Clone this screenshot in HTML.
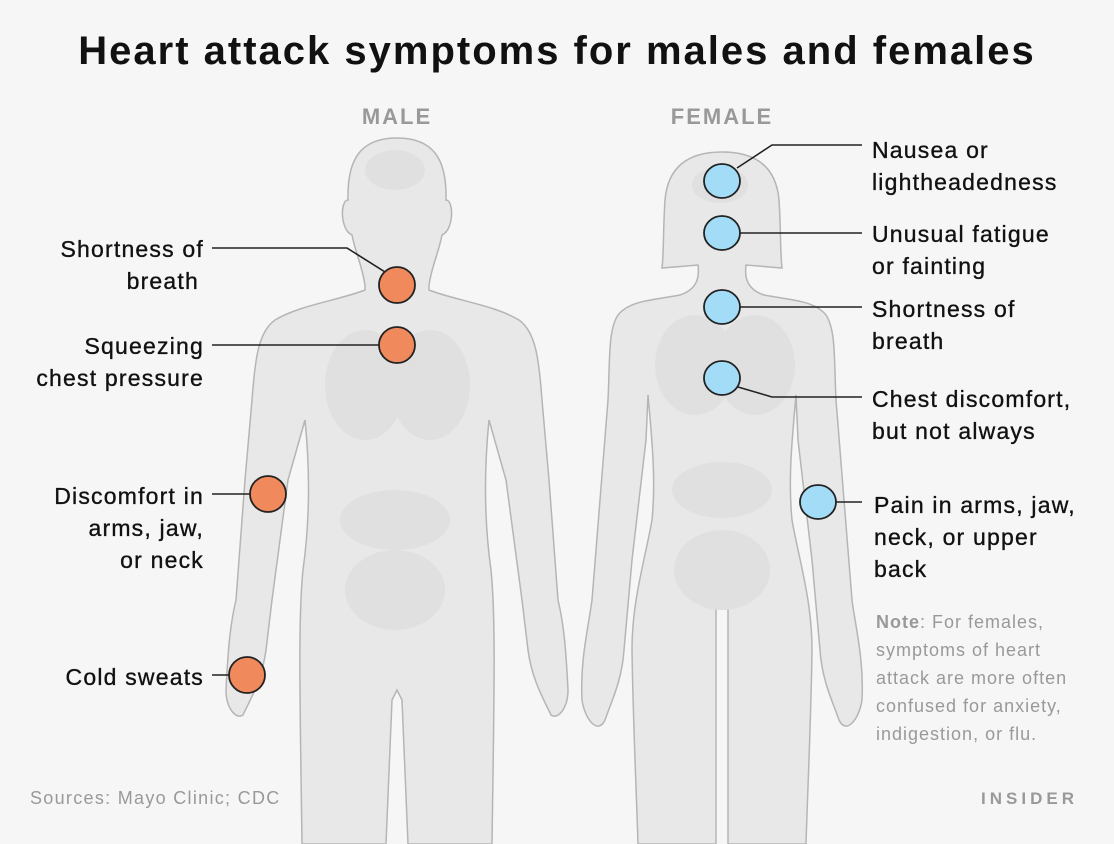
<!DOCTYPE html>
<html><head><meta charset="utf-8"><style>
body{margin:0;width:1114px;height:844px;background:#f6f6f6;overflow:hidden;font-family:"Liberation Sans",sans-serif}
svg{position:absolute;left:0;top:0}
</style></head><body>
<svg width="1114" height="844" xmlns="http://www.w3.org/2000/svg" font-family="Liberation Sans, sans-serif">
<text x="557" y="64" text-anchor="middle" font-size="40" font-weight="bold" letter-spacing="2" fill="#111">Heart attack symptoms for males and females</text>
<text x="397" y="124" text-anchor="middle" font-size="22" font-weight="bold" letter-spacing="2" fill="#999">MALE</text>
<text x="722" y="124" text-anchor="middle" font-size="22" font-weight="bold" letter-spacing="2" fill="#999">FEMALE</text>
<path d="M397,138 C360,138 347,160 348,200 C340,200 340,230 352,235 C356,255 362,265 365,285 L365,290 C340,300 300,305 275,320 C258,332 255,360 252,400 L245,480 L236,600 C230,625 228,650 226,690 C226,708 236,720 243,715 C250,700 262,680 266,650 L272,600 L288,480 L305,420 C310,470 310,520 303,570 C298,620 300,700 302,844 L386,844 L392,700 L397,690 L402,700 L408,844 L492,844 C494,700 496,620 491,570 C484,520 484,470 489,420 L506,480 L522,600 L528,650 C532,680 544,700 551,715 C558,720 568,708 568,690 C566,650 564,625 558,600 L549,480 L542,400 C539,360 536,332 519,320 C494,305 454,300 429,290 L429,285 C432,265 438,255 442,235 C454,230 454,200 446,200 C447,160 434,138 397,138 Z" fill="#e8e8e8" stroke="#b5b5b5" stroke-width="1.5"/>
<path d="M722,152 C690,152 668,165 665,200 C663,230 664,250 662,268 L698,265 C700,280 695,290 680,295 C655,300 630,300 618,315 C608,330 610,360 608,400 L600,500 L592,600 C588,630 580,660 582,700 C585,720 598,735 605,720 C612,700 622,680 624,650 L632,560 L646,440 L648,395 C652,440 656,480 652,520 C645,560 632,600 632,650 C633,720 636,780 638,844 L716,844 L716,605 L728,605 L728,844 L806,844 C808,780 811,720 812,650 C812,600 799,560 792,520 C788,480 792,440 796,395 L798,440 L812,560 L820,650 C822,680 832,700 839,720 C846,735 859,720 862,700 C864,660 856,630 852,600 L844,500 L836,400 C834,360 836,330 826,315 C814,300 789,300 764,295 C749,290 744,280 746,265 L782,268 C780,250 781,230 779,200 C776,165 754,152 722,152 Z" fill="#e8e8e8" stroke="#b5b5b5" stroke-width="1.5"/>
<g fill="#e0e0e0">
<ellipse cx="365" cy="385" rx="40" ry="55"/><ellipse cx="430" cy="385" rx="40" ry="55"/>
<ellipse cx="395" cy="520" rx="55" ry="30"/><ellipse cx="395" cy="590" rx="50" ry="40"/>
<ellipse cx="395" cy="170" rx="30" ry="20"/>
<ellipse cx="695" cy="365" rx="40" ry="50"/><ellipse cx="755" cy="365" rx="40" ry="50"/>
<ellipse cx="722" cy="490" rx="50" ry="28"/><ellipse cx="722" cy="570" rx="48" ry="40"/>
<ellipse cx="720" cy="185" rx="28" ry="18"/>
</g>
<g stroke="#222" stroke-width="1.6" fill="none">
<polyline points="212,248 347,248 385,272"/>
<line x1="212" y1="345" x2="379" y2="345"/>
<line x1="212" y1="494" x2="250" y2="494"/>
<line x1="212" y1="675" x2="229" y2="675"/>
<polyline points="737,168 772,145 862,145"/>
<line x1="740" y1="233" x2="862" y2="233"/>
<line x1="740" y1="307" x2="862" y2="307"/>
<polyline points="738,387 772,397 862,397"/>
<line x1="836" y1="502" x2="862" y2="502"/>
</g>
<g fill="#f08a5d" stroke="#222" stroke-width="1.8">
<circle cx="397" cy="285" r="18"/><circle cx="397" cy="345" r="18"/>
<circle cx="268" cy="494" r="18"/><circle cx="247" cy="675" r="18"/>
</g>
<g fill="#a3dcf6" stroke="#222" stroke-width="1.8">
<ellipse cx="722" cy="181" rx="18" ry="17"/><ellipse cx="722" cy="233" rx="18" ry="17"/>
<ellipse cx="722" cy="307" rx="18" ry="17"/><ellipse cx="722" cy="378" rx="18" ry="17"/>
<ellipse cx="818" cy="502" rx="18" ry="17"/>
</g>
<g font-size="23" fill="#111" text-anchor="end" letter-spacing="1.2" stroke="#111" stroke-width="0.35">
<text x="204" y="257">Shortness of</text><text x="199" y="289">breath</text>
<text x="204" y="354">Squeezing</text><text x="204" y="386">chest pressure</text>
<text x="204" y="504">Discomfort in</text><text x="204" y="536">arms, jaw,</text><text x="204" y="568">or neck</text>
<text x="204" y="685">Cold sweats</text>
</g>
<g font-size="23" fill="#111" letter-spacing="1.2" stroke="#111" stroke-width="0.35">
<text x="872" y="158">Nausea or</text><text x="872" y="190">lightheadedness</text>
<text x="872" y="242">Unusual fatigue</text><text x="872" y="274">or fainting</text>
<text x="872" y="317">Shortness of</text><text x="872" y="349">breath</text>
<text x="872" y="407">Chest discomfort,</text><text x="872" y="439">but not always</text>
<text x="874" y="513">Pain in arms, jaw,</text><text x="874" y="545">neck, or upper</text><text x="874" y="577">back</text>
</g>
<g font-size="18" fill="#999" letter-spacing="1">
<text x="876" y="628"><tspan font-weight="bold">Note</tspan>: For females,</text>
<text x="876" y="656">symptoms of heart</text>
<text x="876" y="684">attack are more often</text>
<text x="876" y="712">confused for anxiety,</text>
<text x="876" y="740">indigestion, or flu.</text>
<text x="30" y="804" letter-spacing="1.3">Sources: Mayo Clinic; CDC</text>
<text x="1078" y="804" text-anchor="end" letter-spacing="4" font-size="17" font-weight="bold">INSIDER</text>
</g>
</svg>
</body></html>
